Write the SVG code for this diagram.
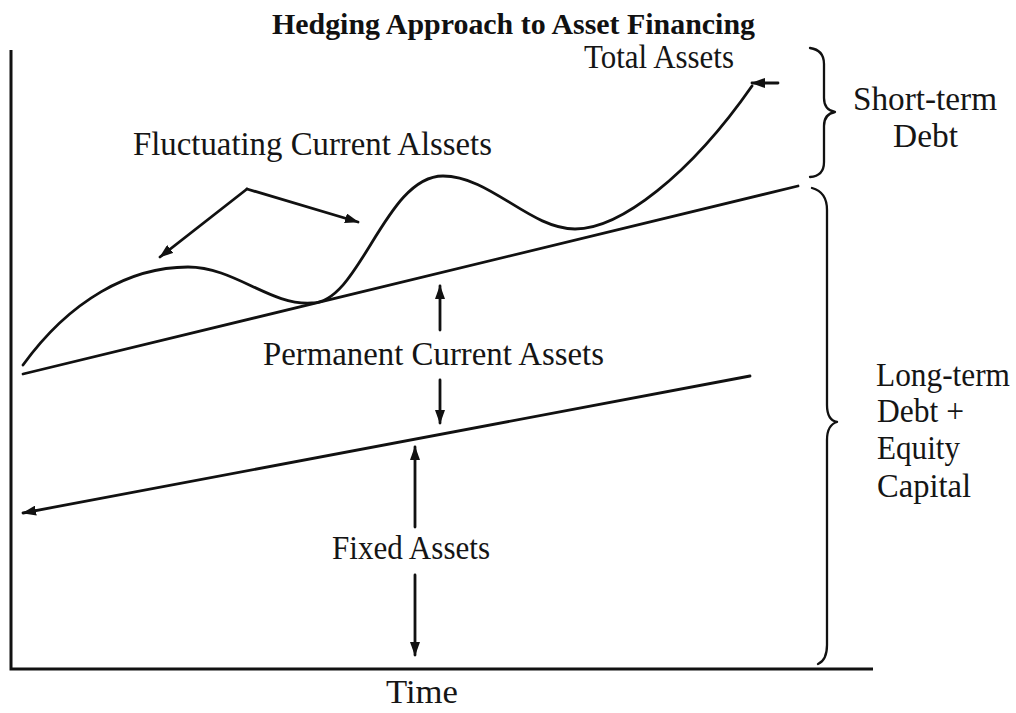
<svg xmlns="http://www.w3.org/2000/svg" width="1016" height="713" viewBox="0 0 1016 713">
  <style>
    .lbl { font-family: "Liberation Serif", "Times New Roman", serif; font-size: 34px; fill: #151515; }
    .title { font-family: "Liberation Serif", "Times New Roman", serif; font-size: 30px; font-weight: bold; fill: #111; }
    .ln { fill: none; stroke: #111; stroke-width: 2.8; stroke-linecap: round; }
    .ax { fill: none; stroke: #111; stroke-width: 3; }
    .brace { fill: none; stroke: #111; stroke-width: 2.3; stroke-linecap: round; stroke-linejoin: round; }
  </style>
  <defs>
    <marker id="head" markerUnits="userSpaceOnUse" viewBox="0 0 14 10" markerWidth="14" markerHeight="10" refX="13" refY="5" orient="auto">
      <path d="M0,0 L14,5 L0,10 z" fill="#111"/>
    </marker>
  </defs>
  <rect width="1016" height="713" fill="#fff"/>

  <g id="title">
    <text class="title" x="272" y="34" textLength="483" lengthAdjust="spacingAndGlyphs">Hedging Approach to Asset Financing</text>
  </g>

  <!-- axes -->
  <g id="axes">
    <path class="ax" d="M11,50 L11,669 L873,669"/>
    <text class="lbl" x="386" y="703" textLength="72" lengthAdjust="spacingAndGlyphs">Time</text>
  </g>

  <!-- asset curves and lines -->
  <g id="connectors">
    <!-- total assets curve -->
    <path class="ln" d="M23,365 C70,300 130,267 188,267 C235,267 270,306 312,303 C360,303 385,176 443,176 C490,176 530,229 575,229 C620,229 690,175 752,86"/>
    <path class="ln" d="M778,83 L752,83" marker-end="url(#head)"/>
    <!-- permanent current assets boundary -->
    <path class="ln" d="M23,374 L798,186"/>
    <!-- fixed assets boundary -->
    <path class="ln" d="M750,376 L23,513" marker-end="url(#head)"/>
    <!-- fluctuating current assets pointers -->
    <path class="ln" d="M247,189 L358,222" marker-end="url(#head)"/>
    <path class="ln" d="M247,189 L160,257" marker-end="url(#head)"/>
    <!-- permanent current assets span -->
    <path class="ln" d="M440,330 L440,286" marker-end="url(#head)"/>
    <path class="ln" d="M440,380 L440,423" marker-end="url(#head)"/>
    <!-- fixed assets span -->
    <path class="ln" d="M415,527 L415,447" marker-end="url(#head)"/>
    <path class="ln" d="M415,575 L415,655" marker-end="url(#head)"/>
  </g>

  <g id="total-assets">
    <text class="lbl" x="584" y="68" textLength="150" lengthAdjust="spacingAndGlyphs">Total Assets</text>
  </g>

  <g id="fluctuating-current-assets">
    <text class="lbl" x="133" y="155" textLength="359" lengthAdjust="spacingAndGlyphs">Fluctuating Current Alssets</text>
  </g>

  <g id="permanent-current-assets">
    <text class="lbl" x="263" y="365" textLength="341" lengthAdjust="spacingAndGlyphs">Permanent Current Assets</text>
  </g>

  <g id="fixed-assets">
    <text class="lbl" x="332" y="559" textLength="158" lengthAdjust="spacingAndGlyphs">Fixed Assets</text>
  </g>

  <g id="short-term-debt">
    <path class="brace" d="M810,48 Q824,50 824,64 L824,98 Q824,110 835,112 Q824,114 824,126 L824,162 Q824,176 810,177"/>
    <text class="lbl" x="853" y="110" textLength="144" lengthAdjust="spacingAndGlyphs">Short-term</text>
    <text class="lbl" x="893" y="147" textLength="65" lengthAdjust="spacingAndGlyphs">Debt</text>
  </g>

  <g id="long-term-financing">
    <path class="brace" d="M812,188 Q827,192 827,210 L827,405 Q827,420 837,422 Q827,425 827,440 L827,645 Q827,660 818,664"/>
    <text class="lbl" x="876" y="386" font-size="32" textLength="134" lengthAdjust="spacingAndGlyphs">Long-term</text>
    <text class="lbl" x="877" y="422" textLength="87" lengthAdjust="spacingAndGlyphs">Debt +</text>
    <text class="lbl" x="877" y="459" textLength="83" lengthAdjust="spacingAndGlyphs">Equity</text>
    <text class="lbl" x="877" y="497" textLength="94" lengthAdjust="spacingAndGlyphs">Capital</text>
  </g>
</svg>
